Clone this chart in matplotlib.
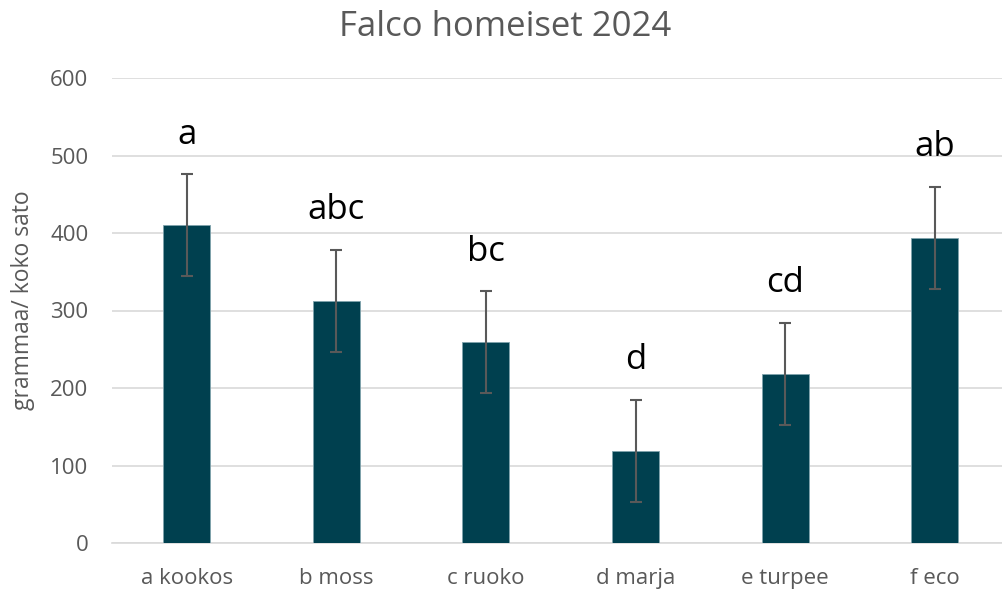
import numpy as np
import matplotlib.pyplot as plt

# Data
categories = ['a kookos', 'b moss', 'c ruoko', 'd marja', 'e turpee', 'f eco']
values = [410, 312, 259, 119, 218, 394]
errors = [66, 66, 66, 66, 66, 66]
letters = ['a', 'abc', 'bc', 'd', 'cd', 'ab']

plt.rcParams['font.family'] = ['Open Sans', 'DejaVu Sans']

grey = '#595959'
fig = plt.figure(figsize=(10.02, 5.93), dpi=100)
ax = fig.add_axes([112/1002, 1 - 543/593, 1 - 112/1002, (543 - 78)/593])

x = np.arange(len(categories))
ax.bar(x, values, width=0.314, color='#00404F', edgecolor='#7FA3AD', linewidth=0.6, zorder=3)
ax.errorbar(x, values, yerr=errors, fmt='none', ecolor=grey, elinewidth=1.5,
            capsize=4.6, capthick=1.5, zorder=4)

# Significance letters above the error bars
for xi, v, e, t in zip(x, values, errors, letters):
    ax.annotate(t, (xi, v + e), xytext=(0, 22), textcoords='offset points',
                ha='center', va='baseline', fontsize=25, color='black')

ax.set_xlim(-0.5, 5.45)
ax.set_ylim(0, 600)
ax.set_yticks(range(0, 601, 100))
ax.set_xticks(x)
ax.set_xticklabels(categories)
ax.yaxis.grid(True, color='#D9D9D9', linewidth=1.2, zorder=0)
ax.set_axisbelow(True)
for s in ['top', 'right', 'left']:
    ax.spines[s].set_visible(False)
ax.spines['bottom'].set_color('#D9D9D9')
ax.spines['bottom'].set_linewidth(1.2)
ax.tick_params(axis='both', length=0, colors=grey, labelsize=16)
ax.tick_params(axis='y', pad=17)
ax.tick_params(axis='x', pad=18)

ax.set_ylabel('grammaa/ koko sato', fontsize=16.5, color=grey)
ax.yaxis.set_label_coords(-0.086, 0.523)
fig.text(0.504, 1 - 36/593, 'Falco homeiset 2024', ha='center', va='baseline',
         fontsize=25, color=grey)

plt.savefig('out.png', dpi=100)
